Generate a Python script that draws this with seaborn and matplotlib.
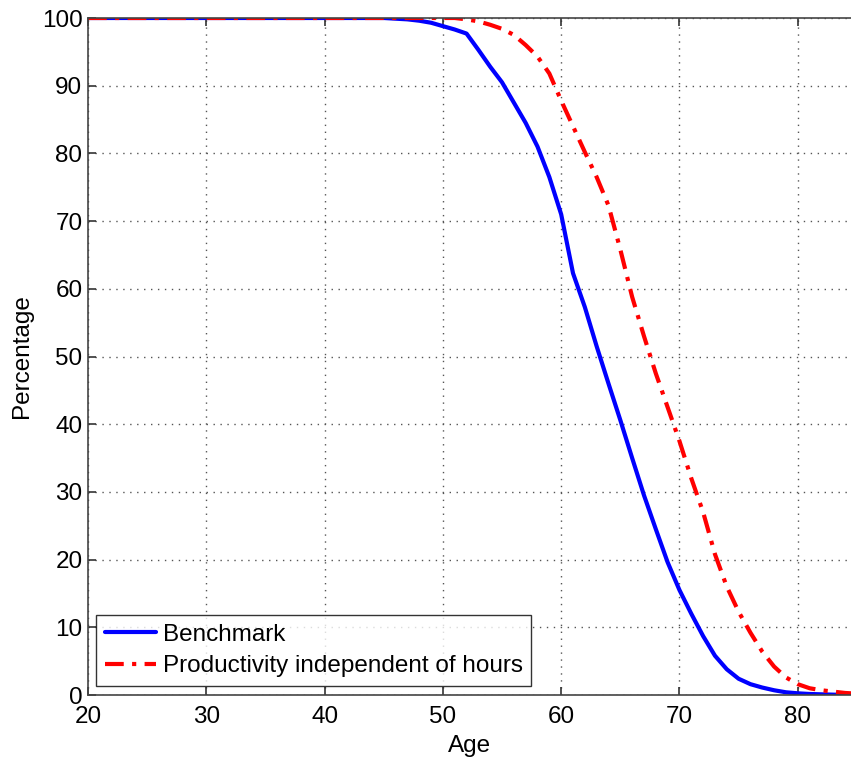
import numpy as np
import pandas as pd
import matplotlib
matplotlib.use("Agg")
import matplotlib.pyplot as plt
import seaborn as sns

ages = list(range(20, 86))

benchmark = [100.0] * 26 + [  # ages 20-45
    99.9, 99.8, 99.6, 99.3, 98.8, 98.3, 97.7,          # 46-52
    95.3, 92.8, 90.5, 87.5, 84.5, 81.0, 76.5, 71.0,    # 53-60
    62.3, 57.3, 51.5, 46.0, 40.6, 35.0, 29.5, 24.5,    # 61-68
    19.6, 15.5, 12.0, 8.7, 5.8, 3.8, 2.4, 1.6,         # 69-76
    1.1, 0.7, 0.4, 0.25, 0.15, 0.1, 0.05, 0.02, 0.0,   # 77-85
]

prod_indep = [100.0] * 31 + [  # ages 20-50
    100.0, 99.8, 99.5, 99.0, 98.4, 97.5, 96.0, 94.3, 91.8, 87.8,  # 51-60
    84.0, 80.2, 76.5, 72.3, 65.8, 58.8, 53.0, 47.5, 42.5, 37.5,   # 61-70
    32.0, 27.0, 20.8, 16.0, 12.3, 9.2, 6.4, 4.2, 2.6, 1.6,        # 71-80
    1.0, 0.7, 0.5, 0.3, 0.2,                                        # 81-85
]

series_names = ["Benchmark", "Productivity independent of hours"]
x_ticks = [20, 30, 40, 50, 60, 70, 80]
y_ticks = [0, 10, 20, 30, 40, 50, 60, 70, 80, 90, 100]

df = pd.DataFrame({
    "Age": ages * 2,
    "Percentage": benchmark + prod_indep,
    "Series": [series_names[0]] * len(ages) + [series_names[1]] * len(ages),
})

sns.set_style("white")
plt.rcParams["font.family"] = ["Liberation Sans", "DejaVu Sans"]
plt.rcParams["text.color"] = "black"
plt.rcParams["axes.labelcolor"] = "black"
plt.rcParams["xtick.color"] = "black"
plt.rcParams["ytick.color"] = "black"

fig = plt.figure(figsize=(8.51, 7.61), dpi=100)
ax = fig.add_axes([88 / 851, 66 / 761, 1 - 88 / 851, 677 / 761])

sns.lineplot(data=df[df.Series == series_names[0]], x="Age", y="Percentage",
             color="#0000ff", lw=3, ax=ax, label=series_names[0])
sns.lineplot(data=df[df.Series == series_names[1]], x="Age", y="Percentage",
             color="#ff0000", lw=3, ax=ax, label=series_names[1],
             dashes=False)
ax.lines[1].set_dashes([4.5, 2, 1, 2])

ax.set_xlim(20, 84.5)
ax.set_ylim(0, 100)
ax.set_xticks(x_ticks)
ax.set_yticks(y_ticks)
ax.tick_params(direction="in", length=6, width=1.2, labelsize=17.5,
               top=True, bottom=True, left=True, right=False,
               color="#333333", labelcolor="black")
ax.tick_params(axis="y", pad=4)
ax.tick_params(axis="x", pad=8)
ax.grid(True, linestyle=(0, (1, 4)), color="#555555", linewidth=1.0)
for s in ["left", "bottom", "top"]:
    ax.spines[s].set_color("#444444")
    ax.spines[s].set_linewidth(1.2)
ax.spines["right"].set_visible(False)

ax.set_xlabel("Age", fontsize=17.5, labelpad=5)
ax.set_ylabel("Percentage", fontsize=17.5, labelpad=6)

leg = ax.legend(loc="lower left", bbox_to_anchor=(8 / 763, 9 / 677), fontsize=17.5,
                frameon=True, fancybox=False, edgecolor="black",
                handlelength=2.1, borderpad=0.35, labelspacing=0.4,
                handletextpad=0.3, borderaxespad=0.0)
leg.get_frame().set_linewidth(1.0)

fig.savefig("out.png", dpi=100)
